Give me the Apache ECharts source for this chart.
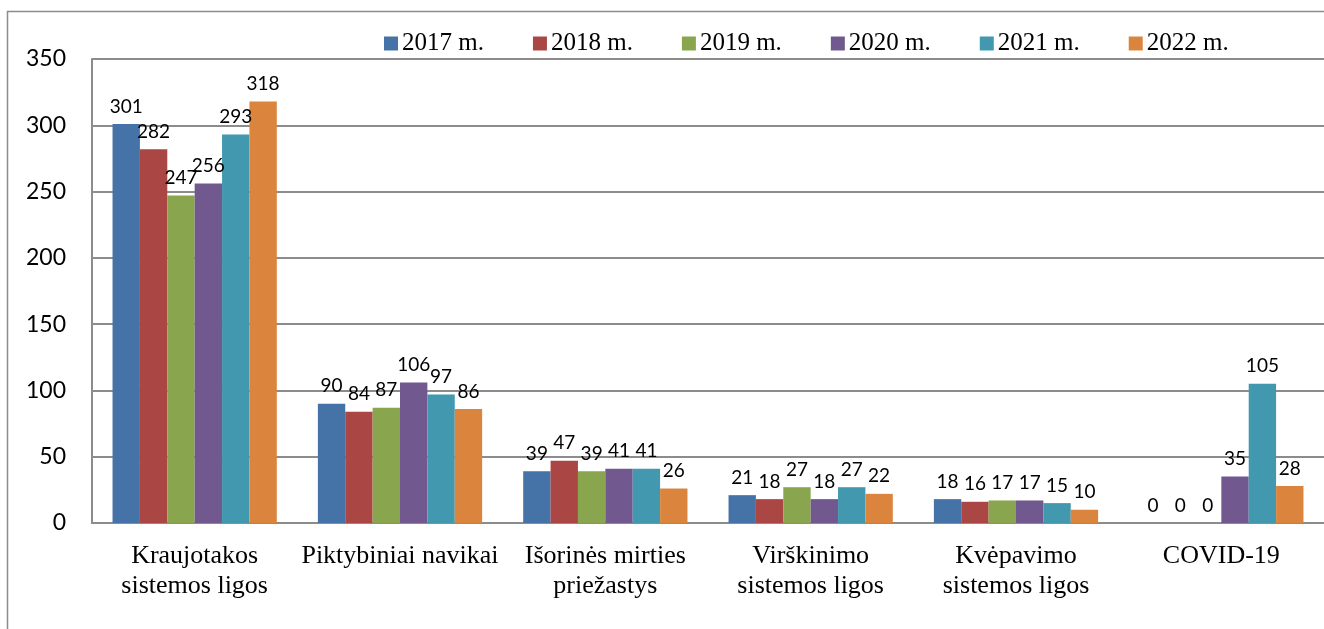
<!DOCTYPE html>
<html>
<head>
<meta charset="utf-8">
<script src="https://cdn.jsdelivr.net/npm/echarts@6/dist/echarts.min.js"></script>
<style>
  html, body { margin: 0; padding: 0; background: #fff; }
  #main { width: 1324px; height: 629px; }
</style>
</head>
<body>
<div id="main"></div>
<script>
var categories = ['Kraujotakos\nsistemos ligos', 'Piktybiniai navikai', 'Išorinės mirties\npriežastys',
    'Virškinimo\nsistemos ligos', 'Kvėpavimo\nsistemos ligos', 'COVID-19'];
var seriesNames = ['2017 m.', '2018 m.', '2019 m.', '2020 m.', '2021 m.', '2022 m.'];
var v2017 = [301, 90, 39, 21, 18, 0];
var v2018 = [282, 84, 47, 18, 16, 0];
var v2019 = [247, 87, 39, 27, 17, 0];
var v2020 = [256, 106, 41, 18, 17, 35];
var v2021 = [293, 97, 41, 27, 15, 105];
var v2022 = [318, 86, 26, 22, 10, 28];
var colors = ['#4572A7', '#AA4643', '#89A54E', '#71588F', '#4198AF', '#DB843D'];

var myChart = echarts.init(document.getElementById('main'));

var allValues = [v2017, v2018, v2019, v2020, v2021, v2022];
var series = allValues.map(function (vals, i) {
    return {
        name: seriesNames[i],
        type: 'bar',
        data: vals,
        barGap: '0%',
        barCategoryGap: '20%',
        itemStyle: { color: colors[i] },
        label: {
            show: true,
            position: 'top',
            distance: 8,
            fontFamily: 'Lato',
            fontSize: 19,
            color: '#000'
        }
    };
});

var option = {
    animation: false,
    color: colors,
    graphic: [{
        type: 'rect',
        shape: { x: 7.5, y: 11.5, width: 1340, height: 640 },
        style: { fill: 'none', stroke: '#8c8c8c', lineWidth: 1.5 },
        silent: true
    }],
    legend: {
        left: 379,
        top: 26,
        itemWidth: 14,
        itemHeight: 14,
        itemGap: 49,
        icon: 'rect',
        textStyle: { fontFamily: 'Liberation Serif', fontSize: 25, color: '#000', padding: [0, 0, 0, -1] },
        data: seriesNames
    },
    grid: {
        left: 92,
        top: 59,
        width: 1242,
        height: 464,
        containLabel: false
    },
    xAxis: {
        type: 'category',
        data: categories,
        axisLine: { lineStyle: { color: '#8c8c8c', width: 2 } },
        axisTick: { show: false },
        axisLabel: {
            fontFamily: 'Liberation Serif',
            fontSize: 26,
            color: '#000',
            lineHeight: 30,
            margin: 18,
            interval: 0
        }
    },
    yAxis: {
        type: 'value',
        min: 0,
        max: 350,
        interval: 50,
        axisLine: { show: true, lineStyle: { color: '#8c8c8c', width: 2 } },
        axisTick: { show: false },
        splitLine: { lineStyle: { color: '#8c8c8c', width: 2 } },
        axisLabel: {
            fontFamily: 'Lato',
            fontSize: 23,
            color: '#000',
            margin: 26
        }
    },
    series: series
};

myChart.setOption(option);
</script>
</body>
</html>
